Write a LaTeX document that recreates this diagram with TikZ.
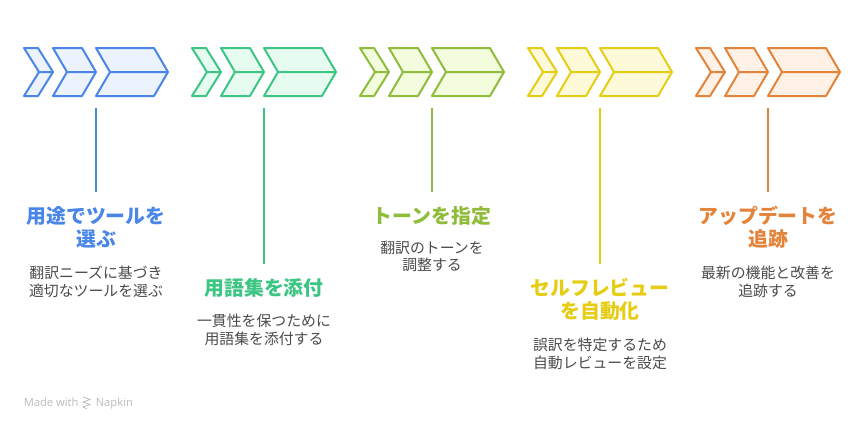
\documentclass[tikz,border=0pt]{standalone}
\usepackage{fontspec}
\setmainfont{Noto Sans CJK JP}
\newfontfamily\madefont{Open Sans}
\usetikzlibrary{positioning,calc}

\definecolor{blueline}{HTML}{4A86E8}
\definecolor{bluefill}{HTML}{EDF3FE}
\definecolor{greenline}{HTML}{3CC583}
\definecolor{greenfill}{HTML}{E6FCF1}
\definecolor{limeline}{HTML}{8FBC3B}
\definecolor{limefill}{HTML}{F3FCDD}
\definecolor{yellowline}{HTML}{E5CD14}
\definecolor{yellowfill}{HTML}{FEF9D9}
\definecolor{orangeline}{HTML}{E3843A}
\definecolor{orangefill}{HTML}{FFF1E6}
\definecolor{bodygray}{HTML}{4A4A4A}
\definecolor{markgray}{HTML}{BBBBBB}

\begin{document}
\begin{tikzpicture}[
    x=0.75pt, y=-0.75pt,
    title/.style = {anchor=north, align=center, inner sep=0pt, font=\fontsize{14.9}{17.8}\selectfont\bfseries},
    body/.style = {anchor=center, align=center, inner sep=0pt, text=bodygray, font=\fontsize{11.15}{13.4}\selectfont},
    stem/.style = {line width=1.5pt},
    madewith/.style = {anchor=base west, inner sep=0pt, text=markgray, font=\fontsize{8.4}{10}\selectfont\madefont},
    chevrons/.pic = {
        \path[pic actions, line width=1.5pt, line join=round] (0,0) -- (14,0) -- (29,24) -- (14,48) -- (0,48) -- (15,24) -- cycle (15,24) -- (29,24);
        \path[pic actions, line width=1.5pt, line join=round] (29,0) -- (58,0) -- (72,24) -- (58,48) -- (29,48) -- (43,24) -- cycle (43,24) -- (72,24);
        \path[pic actions, line width=1.5pt, line join=round] (72,0) -- (130,0) -- (144,24) -- (130,48) -- (72,48) -- (86,24) -- cycle (86,24) -- (144,24);
    }
]
    \useasboundingbox (0,0) rectangle (864,430);

    % Chevron groups
    \pic[draw=blueline, fill=bluefill] at (24,48) {chevrons};
    \pic[draw=greenline, fill=greenfill] at (192,48) {chevrons};
    \pic[draw=limeline, fill=limefill] at (360,48) {chevrons};
    \pic[draw=yellowline, fill=yellowfill] at (528,48) {chevrons};
    \pic[draw=orangeline, fill=orangefill] at (696,48) {chevrons};

    % Stem tops
    \coordinate (top1) at (96,108);
    \coordinate (top2) at (264,108);
    \coordinate (top3) at (432,108);
    \coordinate (top4) at (600,108);
    \coordinate (top5) at (768,108);

    % Titles
    \node[title, text=blueline] (title1) at (96,192) {\rule{0pt}{23.2pt}用途でツールを \\ 選ぶ};
    \node[title, text=greenline] (title2) at (264,264) {\rule{0pt}{23.2pt}用語集を添付};
    \node[title, text=limeline] (title3) at (432,192) {\rule{0pt}{23.2pt}トーンを指定};
    \node[title, text=yellowline] (title4) at (600,264) {\rule{0pt}{23.2pt}セルフレビュー \\ を自動化};
    \node[title, text=orangeline] (title5) at (768,192) {\rule{0pt}{23.2pt}アップデートを \\ 追跡};

    % Descriptions
    \node[body] (body1) at (96,281.5) {翻訳ニーズに基づき \\ 適切なツールを選ぶ};
    \node[body] (body2) at (264,329.5) {一貫性を保つために \\ 用語集を添付する};
    \node[body] (body3) at (432,256.5) {翻訳のトーンを \\ 調整する};
    \node[body] (body4) at (600,353.5) {誤訳を特定するため \\ 自動レビューを設定};
    \node[body] (body5) at (768,281.5) {最新の機能と改善を \\ 追跡する};

    % Stems
    \draw[stem, blueline] (top1) -- (title1.north);
    \draw[stem, greenline] (top2) -- (title2.north);
    \draw[stem, limeline] (top3) -- (title3.north);
    \draw[stem, yellowline] (top4) -- (title4.north);
    \draw[stem, orangeline] (top5) -- (title5.north);

    % Watermark
    \node[madewith] (made) at (23.5,406) {Made with};
    \draw[markgray, line width=0.6pt] (83,397) -- (90,399.5) -- (83,402) -- (90,404.5) -- (83,407) -- (87,409);
    \node[madewith] (napkin) at (95.5,406) {Napkin};
\end{tikzpicture}
\end{document}
